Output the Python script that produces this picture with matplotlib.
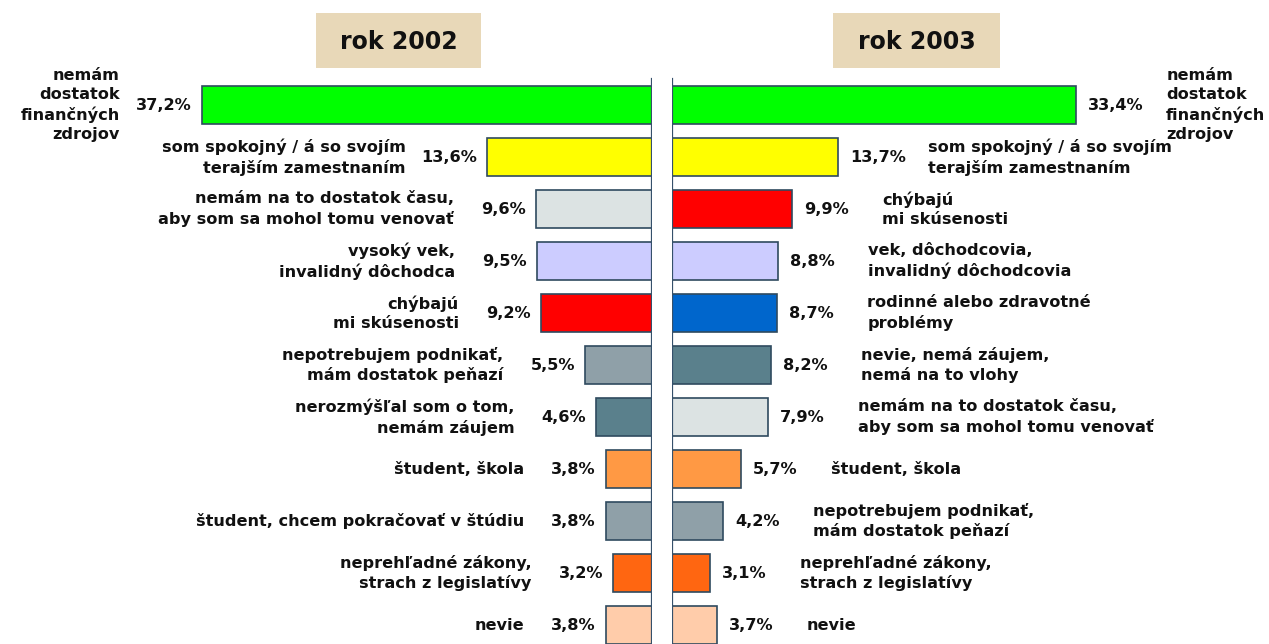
import matplotlib
matplotlib.use("Agg")
import matplotlib.pyplot as plt
from matplotlib.patches import Rectangle

# ---- data ----
labels_2002 = [
    "nemám\ndostatok\nfinančných\nzdrojov",
    "som spokojný / á so svojím\nterajším zamestnaním",
    "nemám na to dostatok času,\naby som sa mohol tomu venovať",
    "vysoký vek,\ninvalidný dôchodca",
    "chýbajú\nmi skúsenosti",
    "nepotrebujem podnikať,\nmám dostatok peňazí",
    "nerozmýšľal som o tom,\nnemám záujem",
    "študent, škola",
    "študent, chcem pokračovať v štúdiu",
    "neprehľadné zákony,\nstrach z legislatívy",
    "nevie",
]
values_2002 = [37.2, 13.6, 9.6, 9.5, 9.2, 5.5, 4.6, 3.8, 3.8, 3.2, 3.8]
colors_2002 = ["#00FF00", "#FFFF00", "#DCE3E3", "#CCCCFF", "#FF0000", "#8FA0A8",
               "#5A808C", "#FF9944", "#8FA0A8", "#FF6611", "#FFCCAA"]

labels_2003 = [
    "nemám\ndostatok\nfinančných\nzdrojov",
    "som spokojný / á so svojím\nterajším zamestnaním",
    "chýbajú\nmi skúsenosti",
    "vek, dôchodcovia,\ninvalidný dôchodcovia",
    "rodinné alebo zdravotné\nproblémy",
    "nevie, nemá záujem,\nnemá na to vlohy",
    "nemám na to dostatok času,\naby som sa mohol tomu venovať",
    "študent, škola",
    "nepotrebujem podnikať,\nmám dostatok peňazí",
    "neprehľadné zákony,\nstrach z legislatívy",
    "nevie",
]
values_2003 = [33.4, 13.7, 9.9, 8.8, 8.7, 8.2, 7.9, 5.7, 4.2, 3.1, 3.7]
colors_2003 = ["#00FF00", "#FFFF00", "#FF0000", "#CCCCFF", "#0066CC", "#5A808C",
               "#DCE3E3", "#FF9944", "#8FA0A8", "#FF6611", "#FFCCAA"]

titles = ["rok 2002", "rok 2003"]

# ---- layout ----
W, H = 1269, 644
fig = plt.figure(figsize=(W / 100, H / 100), dpi=100)
fig.patch.set_facecolor("white")

px_per_unit = 12.1
row_px = 52.0
first_row_px = 105.0
ylim = ((H - first_row_px) / row_px, -first_row_px / row_px)

left_edge = 652
right_edge = 672

axL = fig.add_axes([0, 0, left_edge / W, 1])
axR = fig.add_axes([right_edge / W, 0, (W - right_edge) / W, 1])
axL.set_xlim(left_edge / px_per_unit, 0)
axR.set_xlim(0, (W - right_edge) / px_per_unit)

font = dict(family="DejaVu Sans", fontweight="bold", fontsize=11.6, color="#111111")
edge = "#2F4A5F"
line_col = "#35506B"

for ax, vals, cols, labs, side in [(axL, values_2002, colors_2002, labels_2002, -1),
                                   (axR, values_2003, colors_2003, labels_2003, 1)]:
    ax.set_ylim(*ylim)
    ax.axis("off")
    ax.patch.set_alpha(0)
    ys = list(range(len(vals)))
    ax.barh(ys, vals, height=0.72, color=cols, edgecolor=edge, linewidth=1.2, zorder=2)
    top_frac = 1 - 79 / H
    ax.axvline(0, ymin=0, ymax=top_frac, color=line_col, lw=1.6, zorder=3)
    for y, v, lab in zip(ys, vals, labs):
        pct = f"{v:.1f}".replace(".", ",") + "%"
        if side < 0:
            ax.annotate(pct, (v, y), xytext=(-10, 0), textcoords="offset pixels",
                        ha="right", va="center", **font)
            ax.annotate(lab, (v, y), xytext=(-82, 0), textcoords="offset pixels",
                        ha="right", va="center", multialignment="right",
                        linespacing=1.35, **font)
        else:
            ax.annotate(pct, (v, y), xytext=(12, 0), textcoords="offset pixels",
                        ha="left", va="center", **font)
            ax.annotate(lab, (v, y), xytext=(90, 0), textcoords="offset pixels",
                        ha="left", va="center", multialignment="left",
                        linespacing=1.35, **font)

# title boxes
for (x0, x1), t in zip([(316, 481), (833, 1000)], titles):
    fig.patches.append(Rectangle((x0 / W, 1 - 68 / H), (x1 - x0) / W, 55 / H,
                                 transform=fig.transFigure, facecolor="#E8D8B8",
                                 edgecolor="none", zorder=1))
    fig.text((x0 + x1) / 2 / W, 1 - 42 / H, t, ha="center", va="center",
             family="DejaVu Sans", fontweight="bold", fontsize=17, color="#111111")

fig.savefig("out.png", dpi=100, facecolor="white")
